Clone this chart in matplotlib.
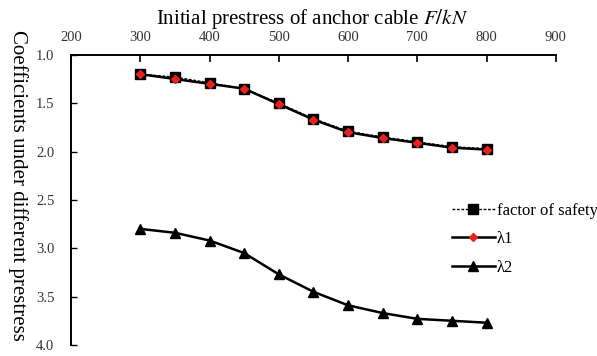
import matplotlib
matplotlib.use("Agg")
import matplotlib.pyplot as plt

prestress = [300, 350, 400, 450, 500, 550, 600, 650, 700, 750, 800]
factor_of_safety = [1.20, 1.23, 1.29, 1.35, 1.50, 1.66, 1.79, 1.85, 1.90, 1.95, 1.97]
lambda1 = [1.20, 1.25, 1.30, 1.35, 1.51, 1.67, 1.80, 1.86, 1.91, 1.96, 1.98]
lambda2 = [2.80, 2.84, 2.92, 3.05, 3.27, 3.45, 3.59, 3.67, 3.73, 3.75, 3.77]
x_ticks = [200, 300, 400, 500, 600, 700, 800, 900]
y_ticks = [1.0, 1.5, 2.0, 2.5, 3.0, 3.5, 4.0]

plt.rcParams['font.family'] = ['Liberation Serif', 'DejaVu Serif']
plt.rcParams['mathtext.fontset'] = 'stix'

fig = plt.figure(figsize=(5.97, 3.56), dpi=100)
ax = fig.add_axes([0.119, 0.031, 0.812, 0.815])

ax.plot(prestress, factor_of_safety, color='black', linestyle=(0, (2, 1.2)), linewidth=1.0,
        marker='s', markersize=6.5, markerfacecolor='black', markeredgecolor='black',
        label='factor of safety')
ax.plot(prestress, lambda1, color='black', linestyle='-', linewidth=1.8,
        marker='D', markersize=4, markerfacecolor='#e8201e', markeredgecolor='#e8201e',
        label='λ1')
ax.plot(prestress, lambda2, color='black', linestyle='-', linewidth=1.8,
        marker='^', markersize=6.5, markerfacecolor='black', markeredgecolor='black',
        label='λ2')

ax.set_xlim(200, 900)
ax.set_ylim(4.0, 1.0)
ax.set_xticks(x_ticks)
ax.set_yticks(y_ticks)
ax.set_yticklabels([f"{v:.1f}" for v in y_ticks])
ax.xaxis.tick_top()
ax.tick_params(axis='x', direction='in', length=5, width=1.2, labelsize=10.5, pad=8, colors='black', labelcolor='#333333')
ax.tick_params(axis='y', direction='in', length=4, width=1.0, labelsize=10.5, pad=12, labelcolor='#333333')
for s in ['right', 'bottom']:
    ax.spines[s].set_visible(False)
for s in ['left', 'top']:
    ax.spines[s].set_linewidth(1.4)

fig.text(0.522, 0.948, r'Initial prestress of anchor cable $\it{F/kN}$', ha='center', va='center', fontsize=15)
fig.text(0.03, 0.48, 'Coefficients under different prestress', rotation=-90, ha='center', va='center', fontsize=15)

leg = ax.legend(loc='upper left', bbox_to_anchor=(0.785, 0.49), frameon=False, fontsize=12,
                handlelength=2.6, handletextpad=0.1, labelspacing=0.75, borderaxespad=0,
                borderpad=0)

fig.savefig('out.png', dpi=100)
